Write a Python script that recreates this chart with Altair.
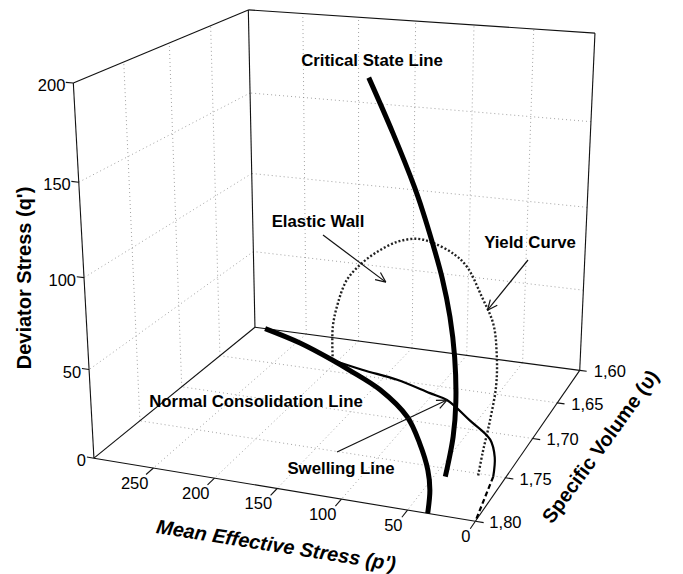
import numpy as np
import pandas as pd
import altair as alt

# ---- axis limits and ticks -------------------------------------------------
P_MAX = 300.0
V_MIN, V_MAX = 1.60, 1.80
Q_MAX = 200.0
p_ticks = [0, 50, 100, 150, 200, 250]
v_ticks = [1.60, 1.65, 1.70, 1.75, 1.80]
v_tick_labels = ["1,60", "1,65", "1,70", "1,75", "1,80"]
q_ticks = [0, 50, 100, 150, 200]

# ---- state paths (p', v, q') -----------------------------------------------
ncl_p = [290.0, 246.7, 204.5, 182.6, 143.7, 104.5, 78.7, 57.5, 45.4, 35.0]
ncl_v = [1.600, 1.615, 1.634, 1.645, 1.666, 1.696, 1.726, 1.755, 1.776, 1.800]

swl_p = [204.5, 172.3, 137.8, 103.0, 85.4, 55.8, 30.0, 17.5, 8.9]
swl_v = [1.634, 1.642, 1.649, 1.661, 1.667, 1.689, 1.709, 1.729, 1.751]
swl_ext_p = [8.9, 0.0]
swl_ext_v = [1.751, 1.800]

csl_p = [185.9, 155.8, 128.3, 116.4, 101.3, 85.5, 69.5, 54.8, 40.6, 31.4, 23.0]
csl_v = [1.609, 1.625, 1.642, 1.651, 1.664, 1.679, 1.698, 1.720, 1.747, 1.770, 1.799]
csl_q = [167.3, 140.2, 115.5, 104.8, 91.2, 77.0, 62.6, 49.3, 36.5, 28.3, 20.7]

yld_p = [204.5, 204.3, 198.9, 189.2, 175.5, 158.4, 138.9, 118.3, 102.2, 80.0,
         63.5, 45.0, 30.0, 20.0, 12.0, 6.0, 3.0, 1.0]
yld_v = [1.634, 1.634, 1.635, 1.638, 1.641, 1.645, 1.649, 1.656, 1.661, 1.671,
         1.683, 1.697, 1.709, 1.725, 1.743, 1.767, 1.784, 1.795]
yld_q = [0.0, 21.2, 37.2, 53.2, 64.8, 75.2, 84.0, 89.6, 90.0, 88.5,
         86.4, 76.0, 66.0, 57.0, 47.0, 37.0, 29.0, 22.0]

# ---- perspective camera (unit box -> page pixels) --------------------------
CAMERA = np.array([
    [-307.58529, -188.50785, -23.078087, 579.73358],
    [-21.058689, 58.666442, -339.36583, 370.34824],
    [0.067391918, -0.17701087, -0.064379543, 1.0],
])
W, H = 683, 574


def project(p, v, q):
    u = np.stack([np.asarray(p, float) / P_MAX,
                  (np.asarray(v, float) - V_MIN) / (V_MAX - V_MIN),
                  np.asarray(q, float) / Q_MAX], -1)
    h = u @ CAMERA[:, :3].T + CAMERA[:, 3]
    return h[..., 0] / h[..., 2], h[..., 1] / h[..., 2]


rows = []


def add_path(kind, name, p, v, q):
    xs, ys = project(p, v, q)
    for i, (x, y) in enumerate(zip(np.atleast_1d(xs), np.atleast_1d(ys))):
        rows.append(dict(x=float(x), y=float(y), grp=name, ord=i, kind=kind))


def add_screen_path(kind, name, pts):
    for i, (x, y) in enumerate(pts):
        rows.append(dict(x=float(x), y=float(y), grp=name, ord=i, kind=kind))


# grid on floor and the two back walls
for p in p_ticks[1:]:
    add_path("grid", f"fp{p}", [p, p], [V_MIN, V_MAX], [0, 0])
    add_path("grid", f"bp{p}", [p, p], [V_MIN, V_MIN], [0, Q_MAX])
for v in v_ticks[1:-1]:
    add_path("grid", f"fv{v}", [0, P_MAX], [v, v], [0, 0])
    add_path("grid", f"lv{v}", [P_MAX, P_MAX], [v, v], [0, Q_MAX])
for q in q_ticks[1:-1]:
    add_path("grid", f"bq{q}", [0, P_MAX], [V_MIN, V_MIN], [q, q])
    add_path("grid", f"lq{q}", [P_MAX, P_MAX], [V_MIN, V_MAX], [q, q])

# box edges
edges = [
    ((P_MAX, V_MAX, 0), (P_MAX, V_MAX, Q_MAX)),
    ((P_MAX, V_MAX, Q_MAX), (P_MAX, V_MIN, Q_MAX)),
    ((P_MAX, V_MIN, Q_MAX), (0, V_MIN, Q_MAX)),
    ((0, V_MIN, Q_MAX), (0, V_MIN, 0)),
    ((P_MAX, V_MIN, 0), (P_MAX, V_MIN, Q_MAX)),
    ((P_MAX, V_MAX, 0), (P_MAX, V_MIN, 0)),
    ((P_MAX, V_MIN, 0), (0, V_MIN, 0)),
    ((P_MAX, V_MAX, 0), (0, V_MAX, 0)),
    ((0, V_MAX, 0), (0, V_MIN, 0)),
]
for k, (a, b) in enumerate(edges):
    add_path("edge", f"e{k}", [a[0], b[0]], [a[1], b[1]], [a[2], b[2]])

# tick marks
for p in p_ticks:
    add_path("edge", f"tp{p}", [p, p], [V_MAX, V_MAX + 0.008], [0, 0])
for v in v_ticks:
    add_path("edge", f"tv{v}", [0, -6], [v, v], [0, 0])
for q in q_ticks:
    add_path("edge", f"tq{q}", [P_MAX, P_MAX + 6], [V_MAX, V_MAX], [q, q])

# state paths
add_path("thick", "ncl", ncl_p, ncl_v, np.zeros(len(ncl_p)))
add_path("thick", "csl", csl_p, csl_v, csl_q)
add_path("thin", "swl", swl_p, swl_v, np.zeros(len(swl_p)))
add_path("dash", "swl_ext", swl_ext_p, swl_ext_v, [0, 0])
add_path("dot", "yld", yld_p, yld_v, yld_q)

# ---- annotations ------------------------------------------------------------
labels = pd.DataFrame({
    "t": ["Critical State Line", "Elastic Wall", "Yield Curve",
          "Normal Consolidation Line", "Swelling Line"],
    "x": [372, 318, 530, 256, 341],
    "y": [61, 222, 243, 402, 469],
})

# arrows: tail on the page, head on a point of the model
arrow_specs = [
    ("a_wall", (323, 235), (150.0, 1.646, 58.0)),
    ("a_yld", (528, 260), (37.5, 1.703, 71.0)),
    ("a_swl", (337, 452), (swl_p[4], swl_v[4], 0.0)),
]
for name, tail, tipw in arrow_specs:
    tx, ty = project(*tipw)
    tx, ty = float(tx), float(ty)
    add_screen_path("arrow", name, [tail, (tx, ty)])
    ang = np.arctan2(ty - tail[1], tx - tail[0])
    for s, side in ((1, "l"), (-1, "r")):
        a = ang + np.pi - s * np.radians(24)
        add_screen_path("arrow", name + side, [(tx + 11 * np.cos(a), ty + 11 * np.sin(a)), (tx, ty)])

df = pd.DataFrame(rows)

xs = alt.X("x:Q", scale=alt.Scale(domain=[0, W]), axis=None)
ys = alt.Y("y:Q", scale=alt.Scale(domain=[0, H], reverse=True), axis=None)


def lines(kind, **mark):
    return alt.Chart(df[df.kind == kind]).mark_line(**mark).encode(
        x=xs, y=ys, detail="grp:N", order="ord:Q")


grid = lines("grid", color="#8a8a8a", strokeWidth=0.8, strokeDash=[1, 3])
edge = lines("edge", color="#111111", strokeWidth=1.1)
thick = lines("thick", color="#000000", strokeWidth=5, interpolate="catmull-rom", strokeCap="butt")
thin = lines("thin", color="#000000", strokeWidth=2.2, interpolate="catmull-rom")
dash = lines("dash", color="#000000", strokeWidth=2.2, strokeDash=[5, 3])
dot = lines("dot", color="#222222", strokeWidth=2.4, strokeDash=[2, 2], interpolate="catmull-rom")
arrow = lines("arrow", color="#111111", strokeWidth=1.2)

FONT = "Liberation Sans"

# tick labels
px, py = project(p_ticks, [V_MAX] * len(p_ticks), [0] * len(p_ticks))
p_lab = pd.DataFrame({"x": px, "y": py, "t": [str(t) for t in p_ticks]})
vx, vy = project([0] * len(v_ticks), v_ticks, [0] * len(v_ticks))
v_lab = pd.DataFrame({"x": vx, "y": vy, "t": v_tick_labels})
qx, qy = project([P_MAX] * len(q_ticks), [V_MAX] * len(q_ticks), q_ticks)
q_lab = pd.DataFrame({"x": qx, "y": qy, "t": [str(t) for t in q_ticks]})


def text_layer(data, **mark):
    base = dict(font=FONT, fontSize=16.5, color="#000000", baseline="middle")
    base.update(mark)
    return alt.Chart(data).mark_text(**base).encode(x=xs, y=ys, text="t:N")


p_text = text_layer(p_lab, align="right", dx=-5, dy=16)
v_text = text_layer(v_lab, align="left", dx=14, dy=2)
q_text = text_layer(q_lab, align="right", dx=-8, dy=3)

curve_text = text_layer(labels, align="center", fontWeight="bold", fontSize=16.8)

titles = pd.DataFrame({
    "t": ["Deviator Stress (q')", "Mean Effective Stress (p')", "Specific Volume (υ)"],
    "x": [25, 276, 601],
    "y": [278, 546, 447],
    "angle": [270, 9, 306],
    "style": ["normal", "italic", "normal"],
})
title_layers = [
    alt.Chart(titles.iloc[[i]]).mark_text(
        font=FONT, fontSize=20, fontWeight="bold", align="center", baseline="middle",
        angle=float(titles.angle[i]), fontStyle=titles["style"][i], color="#000000",
    ).encode(x=xs, y=ys, text="t:N")
    for i in range(len(titles))
]

chart = alt.layer(
    grid, edge, dot, thin, dash, thick, arrow,
    p_text, v_text, q_text, curve_text, *title_layers,
).properties(
    width=W, height=H, padding=0, autosize="none", background="white",
).configure_view(stroke=None)

chart.save("out.html", embed_options={"renderer": "svg", "actions": False})
